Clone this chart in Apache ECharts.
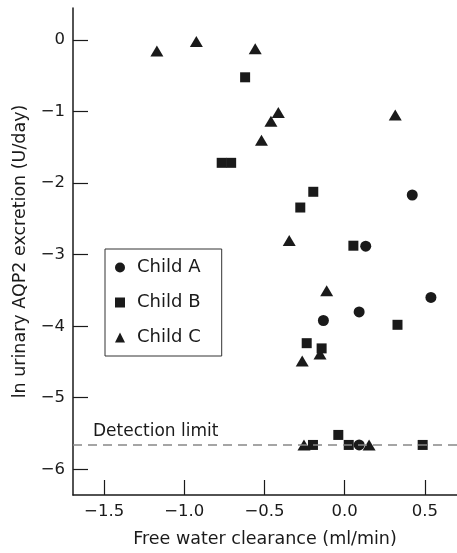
<!DOCTYPE html>
<html>
<head>
<meta charset="utf-8">
<script src="https://cdn.jsdelivr.net/npm/echarts@6/dist/echarts.min.js"></script>
<style>
  html, body { margin: 0; padding: 0; background: #fff; }
  #chart { width: 457px; height: 553px; }
</style>
</head>
<body>
<div id="chart"></div>
<script>
// points: [free water clearance, ln AQP2]
var childA = [[0.421, -2.165], [0.131, -2.88], [0.5375, -3.597], [0.09, -3.80], [-0.133, -3.92], [0.09, -5.66]];
var childB = [[-0.621, -0.519], [-0.767, -1.715], [-0.708, -1.715], [-0.196, -2.12], [-0.277, -2.34],
              [0.054, -2.874], [0.329, -3.98], [-0.237, -4.237], [-0.144, -4.31], [-0.04, -5.52],
              [-0.198, -5.66], [0.025, -5.66], [0.486, -5.66]];
var childC = [[-1.171, -0.153], [-0.925, -0.02], [-0.558, -0.12], [-0.414, -1.01], [-0.46, -1.135],
              [-0.519, -1.40], [0.315, -1.047], [-0.346, -2.80], [-0.1125, -3.505], [-0.265, -4.487],
              [-0.154, -4.39], [-0.254, -5.66], [0.152, -5.66]];
var detectionLimit = -5.66;
var xRange = [-1.694, 0.7];
var yRange = [-6.36, 0.45];
var xTicks = [-1.5, -1.0, -0.5, 0.0, 0.5];
var yTicks = [0, -1, -2, -3, -4, -5, -6];

var font = 'DejaVu Sans';
var ink = '#1a1a1a';

function minus(s) { return s.replace('-', '\u2212'); }

var chart = echarts.init(document.getElementById('chart'));
chart.setOption({
  animation: false,
  textStyle: { fontFamily: font, color: ink },
  grid: { left: 73, top: 8, right: 0, bottom: 55 },
  legend: {
    orient: 'vertical',
    left: 105, top: 249,
    padding: [9, 21, 9, 10],
    itemGap: 16,
    itemWidth: 10, itemHeight: 10,
    borderColor: '#333', borderWidth: 1,
    textStyle: { fontSize: 18, color: ink, fontFamily: font, padding: [0, 0, 0, 7], lineHeight: 19 },
    data: [
      { name: 'Child A', icon: 'circle' },
      { name: 'Child B', icon: 'rect' },
      { name: 'Child C', icon: 'triangle' }
    ]
  },
  xAxis: {
    type: 'value', min: xRange[0], max: xRange[1],
    name: 'Free water clearance (ml/min)', nameLocation: 'middle', nameGap: 35,
    nameTextStyle: { fontSize: 17.5, color: ink, fontFamily: font },
    axisLine: { onZero: false, lineStyle: { color: ink, width: 1.5 } },
    axisTick: { inside: true, length: 15, customValues: xTicks, lineStyle: { color: ink, width: 1.2 } },
    axisLabel: { customValues: xTicks, margin: 8, fontSize: 16.5, color: ink,
      formatter: function (v) { return minus(v.toFixed(1)); } },
    splitLine: { show: false }
  },
  yAxis: {
    type: 'value', min: yRange[0], max: yRange[1],
    name: 'ln urinary AQP2 excretion (U/day)', nameLocation: 'middle', nameGap: 43,
    nameTextStyle: { fontSize: 17.5, color: ink, fontFamily: font },
    axisLine: { show: true, onZero: false, lineStyle: { color: ink, width: 1.5 } },
    axisTick: { show: true, inside: true, length: 15, customValues: yTicks, lineStyle: { color: ink, width: 1.2 } },
    axisLabel: { customValues: yTicks, margin: 8, fontSize: 16.5, color: ink,
      formatter: function (v) { return minus(String(v)); } },
    splitLine: { show: false }
  },
  series: [
    { name: 'Child A', type: 'scatter', symbol: 'circle', symbolSize: 11, data: childA,
      itemStyle: { color: ink, opacity: 1 }, z: 3 },
    { name: 'Child B', type: 'scatter', symbol: 'rect', symbolSize: 10, data: childB,
      itemStyle: { color: ink, opacity: 1 }, z: 3 },
    { name: 'Child C', type: 'scatter', symbol: 'triangle', symbolSize: [13, 11], data: childC,
      itemStyle: { color: ink, opacity: 1 }, z: 3,
      markLine: {
        silent: true, symbol: 'none',
        lineStyle: { color: '#888', type: [9, 6], width: 1.5 },
        label: { show: true, position: 'insideStartTop', formatter: 'Detection limit',
          fontSize: 17, color: ink, fontFamily: font, distance: [20, 5] },
        data: [[{ coord: [xRange[0], detectionLimit] }, { coord: [xRange[1], detectionLimit] }]]
      }
    }
  ]
});
</script>
</body>
</html>
